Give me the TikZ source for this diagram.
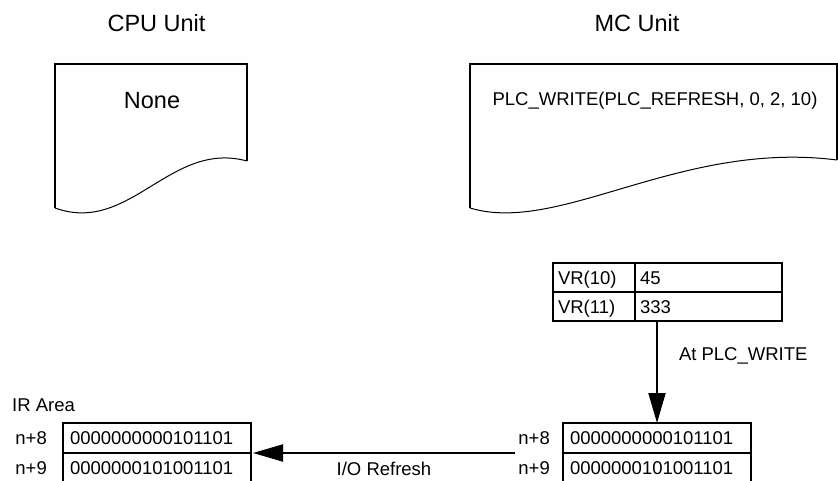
\documentclass[tikz,border=0pt]{standalone}
\usepackage{fontspec}
\setmainfont{Liberation Sans}
\usetikzlibrary{arrows.meta, positioning, calc}
\newcommand{\bigtxt}{\fontsize{23.5}{28}\selectfont}
\newcommand{\smalltxt}{\fontsize{18.5}{22}\selectfont}

\begin{document}
\begin{tikzpicture}[x=1pt, y=-1pt,
    edge/.style={line width=1.8pt},
    wave/.style={line width=1pt},
    cell/.style={draw, line width=1.8pt, anchor=north west, inner xsep=5pt, inner ysep=0pt,
      outer sep=0pt, align=left, font=\smalltxt, text height=13.3pt, text depth=0pt,
      minimum height=29pt},
    numcell/.style={cell, text width=174pt, inner xsep=7pt, minimum height=30pt},
    flow/.style={line width=2pt, -{Triangle[length=30pt, width=17pt]}},
    lbl/.style={font=\smalltxt, inner sep=0pt}]
  \useasboundingbox (0,0) rectangle (838,481);
  \clip (0,0) rectangle (838,481);

  % ---- CPU Unit ----
  \node[font=\bigtxt] (cpu) at (156.5,23) {CPU Unit};
  \draw[edge] (55,208) -- (55,64) -- (247,64) -- (247,161);
  \draw[wave] (247,161) .. controls (170,140) and (130,235) .. (55,208);
  \node[font=\bigtxt] (none) at (152,100.5) {None};

  % ---- MC Unit ----
  \node[font=\bigtxt] (mc) at (637,23) {MC Unit};
  \draw[edge] (470,208) -- (470,64) -- (837,64) -- (837,160);
  \draw[wave] (837,160) .. controls (680,140) and (560,235) .. (470,208);
  \node[lbl] (plc) at (655,101) {PLC\_WRITE(PLC\_REFRESH, 0, 2, 10)};

  % ---- VR table ----
  \node[cell, text width=72pt]  (vr10) at (553,263) {VR(10)};
  \node[cell, text width=137pt] (v10)  at (vr10.north east) {45};
  \node[cell, text width=72pt]  (vr11) at (vr10.south west) {VR(11)};
  \node[cell, text width=137pt] (v11)  at (vr11.north east) {333};

  % ---- MC Unit area ----
  \node[numcell] (m8) at (563,423) {0000000000101101};
  \node[numcell] (m9) at (m8.south west) {0000000101001101};
  \node[lbl, left=13pt of m8] (mn8) {n+8};
  \node[lbl, left=13pt of m9] (mn9) {n+9};

  % ---- IR Area ----
  \node[lbl, anchor=west] (irarea) at (12,405) {IR Area};
  \node[numcell] (i8) at (63,423) {0000000000101101};
  \node[numcell] (i9) at (i8.south west) {0000000101001101};
  \node[lbl, left=16pt of i8] (in8) {n+8};
  \node[lbl, left=16pt of i9] (in9) {n+9};

  % Arrows
  \draw[flow] (m8.north |- v11.south) -- (m8.north)
    node[lbl, pos=0.34, anchor=west, xshift=21pt] (atw) {At PLC\_WRITE};
  \draw[flow] ([xshift=-48pt]m8.south west) -- ([xshift=2pt]i8.south east)
    node[lbl, midway, yshift=-16pt] (iolbl) {I/O Refresh};
\end{tikzpicture}
\end{document}
